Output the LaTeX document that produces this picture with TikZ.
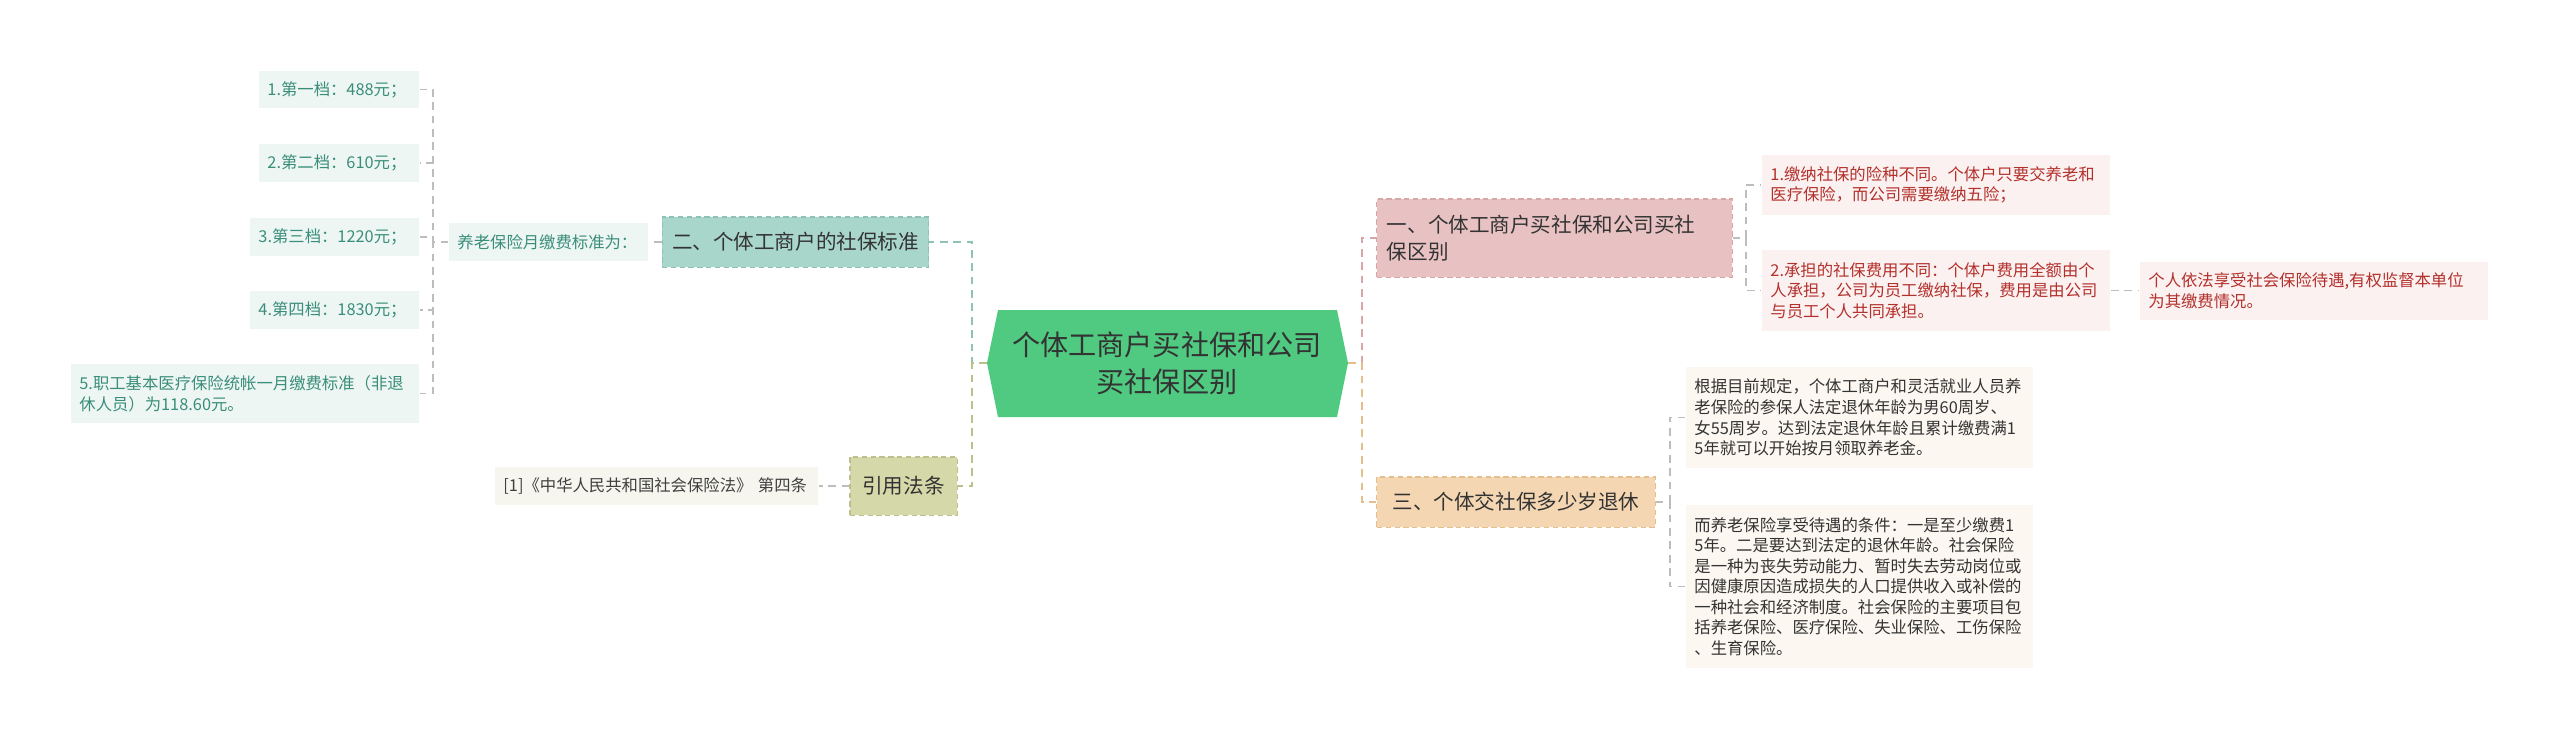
\documentclass[tikz,border=0pt]{standalone}
\usepackage{fontspec}
\usepackage{xcolor}
\setmainfont{Noto Sans CJK SC}
\usetikzlibrary{positioning}

\definecolor{mainfill}{HTML}{50CA80}
\definecolor{tealfill}{HTML}{A9D6CB}
\definecolor{tealedge}{HTML}{8FC2B6}
\definecolor{tealleaf}{HTML}{EEF6F4}
\definecolor{tealtext}{HTML}{3A8E79}
\definecolor{olivefill}{HTML}{D5D8A9}
\definecolor{oliveedge}{HTML}{BCC08A}
\definecolor{oliveleaf}{HTML}{F6F6EE}
\definecolor{pinkfill}{HTML}{E8C2C2}
\definecolor{pinkedge}{HTML}{D7A6A6}
\definecolor{pinkleaf}{HTML}{FBF1F1}
\definecolor{redtext}{HTML}{B3302B}
\definecolor{peachfill}{HTML}{F4D6B3}
\definecolor{peachedge}{HTML}{E6BE8E}
\definecolor{peachleaf}{HTML}{FCF7F1}
\definecolor{linkgray}{HTML}{BDBDBD}

\newcommand\mainfs{\fontsize{8}{10.4}\selectfont}
\newcommand\branchfs{\fontsize{5.85}{7.6}\selectfont}
\newcommand\leaffs{\fontsize{4.65}{5.85}\selectfont}

\tikzset{
  mainnode/.style={font=\mainfs, text=black!80, align=center, inner sep=0pt},
  branch/.style={font=\branchfs, text=black!80, align=center, inner xsep=0.1cm, inner ysep=0pt,
    draw=#1edge, fill=#1fill, line width=0.3pt, dash pattern=on 1.5pt off 1pt},
  leaf/.style={font=\leaffs, align=left, inner xsep=0.085cm, inner ysep=0pt},
  link/.style={draw=linkgray, line width=0.5pt, dash pattern=on 2.2pt off 1.6pt},
  twig/.style={draw=#1, line width=0.5pt, dash pattern=on 2.2pt off 1.6pt}
}

\begin{document}
\begin{tikzpicture}[x=0.01cm,y=-0.01cm]
  \useasboundingbox (0,0) rectangle (2560,741);

  % centre
  \fill[mainfill] (987,363) -- (998,310) -- (1337,310) -- (1348,363) -- (1337,417) -- (998,417) -- cycle;
  \node[mainnode] (main) at (1167,363) {个体工商户买社保和公司\\买社保区别};
  \coordinate (mainL) at (987,363);
  \coordinate (mainR) at (1348,363);

  % left: 二
  \node[branch=teal, minimum width=2.59cm, minimum height=0.50cm] (b2) at (795.5,242) {二、个体工商户的社保标准};
  \node[leaf, fill=tealleaf, text=tealtext, text width=1.82cm, minimum height=0.38cm] (yl) at (548.5,242) {养老保险月缴费标准为：};
  \node[leaf, fill=tealleaf, text=tealtext, text width=1.43cm, minimum height=0.37cm] (l1) at (339,89.5) {1.第一档：488元；};
  \node[leaf, fill=tealleaf, text=tealtext, text width=1.43cm, minimum height=0.38cm] (l2) at (339,163) {2.第二档：610元；};
  \node[leaf, fill=tealleaf, text=tealtext, text width=1.52cm, minimum height=0.38cm] (l3) at (334.5,237) {3.第三档：1220元；};
  \node[leaf, fill=tealleaf, text=tealtext, text width=1.52cm, minimum height=0.38cm] (l4) at (334.5,310) {4.第四档：1830元；};
  \node[leaf, fill=tealleaf, text=tealtext, text width=3.31cm, minimum height=0.59cm] (l5) at (245,393.5) {5.职工基本医疗保险统帐一月缴费标准（非退\\休人员）为118.60元。};

  % left: 引用法条
  \node[branch=olive, minimum width=1.07cm, minimum height=0.58cm] (cite) at (903.5,486) {引用法条};
  \node[leaf, fill=oliveleaf, text=black!75, text width=3.06cm, minimum height=0.38cm] (law) at (656.5,486) {[1]《中华人民共和国社会保险法》 第四条};

  % right: 一
  \node[branch=pink, align=left, text width=3.35cm, minimum height=0.78cm] (b1) at (1554.5,238) {一、个体工商户买社保和公司买社\\保区别};
  \node[leaf, fill=pinkleaf, text=redtext, text width=3.31cm, minimum height=0.60cm] (c1) at (1936,185) {1.缴纳社保的险种不同。个体户只要交养老和\\医疗保险，而公司需要缴纳五险；};
  \node[leaf, fill=pinkleaf, text=redtext, text width=3.31cm, minimum height=0.81cm] (c2) at (1936,290.5) {2.承担的社保费用不同：个体户费用全额由个\\人承担，公司为员工缴纳社保，费用是由公司\\与员工个人共同承担。};
  \node[leaf, fill=pinkleaf, text=redtext, text width=3.31cm, minimum height=0.58cm] (c2x) at (2314,290.5) {个人依法享受社会保险待遇,有权监督本单位\\为其缴费情况。};

  % right: 三
  \node[branch=peach, minimum width=2.78cm, minimum height=0.50cm] (b3) at (1516,502) {三、个体交社保多少岁退休};
  \node[leaf, fill=peachleaf, text=black!80, text width=3.30cm, minimum height=1.01cm] (c3) at (1859.5,417.5) {根据目前规定，个体工商户和灵活就业人员养\\老保险的参保人法定退休年龄为男60周岁、\\女55周岁。达到法定退休年龄且累计缴费满1\\5年就可以开始按月领取养老金。};
  \node[leaf, fill=peachleaf, text=black!80, text width=3.30cm, minimum height=1.63cm] (c4) at (1859.5,586.5) {而养老保险享受待遇的条件：一是至少缴费1\\5年。二是要达到法定的退休年龄。社会保险\\是一种为丧失劳动能力、暂时失去劳动岗位或\\因健康原因造成损失的人口提供收入或补偿的\\一种社会和经济制度。社会保险的主要项目包\\括养老保险、医疗保险、失业保险、工伤保险\\、生育保险。};

  % connectors
  \draw[twig=tealedge] (mainL) -- ++(-15,0) |- (b2.east);
  \draw[twig=oliveedge] (mainL) -- ++(-15,0) |- (cite.east);
  \draw[twig=pinkedge] (mainR) -- ++(14,0) |- (b1.west);
  \draw[twig=peachedge] (mainR) -- ++(14,0) |- (b3.west);
  \draw[link] (b2.west) -- (yl.east);
  \foreach \n in {l1,l2,l3,l4,l5}
    \draw[link] (yl.west) -- ++(-15,0) |- (\n.east);
  \draw[link] (cite.west) -- (law.east);
  \foreach \n in {c1,c2}
    \draw[link] (b1.east) -- ++(13,0) |- (\n.west);
  \draw[link] (c2.east) -- (c2x.west);
  \foreach \n in {c3,c4}
    \draw[link] (b3.east) -- ++(14,0) |- (\n.west);
\end{tikzpicture}
\end{document}
